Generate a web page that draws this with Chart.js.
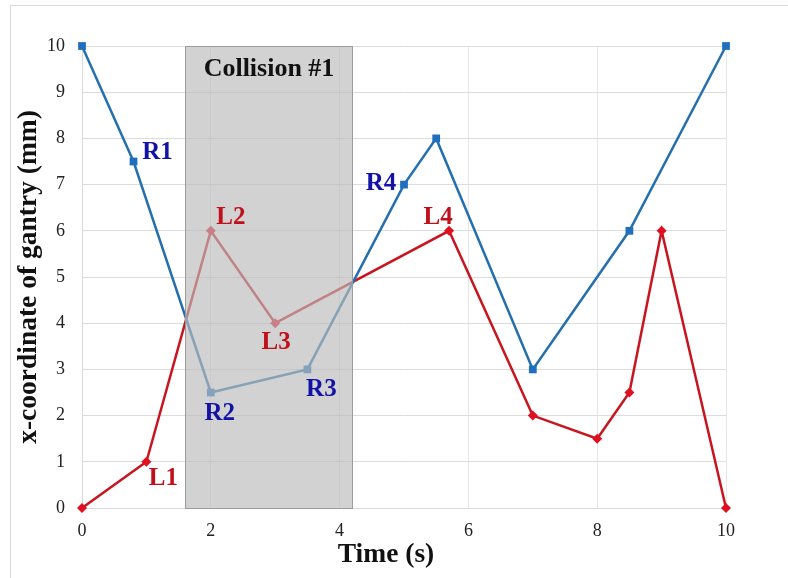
<!DOCTYPE html>
<html>
<head>
<meta charset="utf-8">
<script src="https://cdn.jsdelivr.net/npm/chart.js@4/dist/chart.umd.min.js"></script>
<style>
  html, body { margin: 0; padding: 0; background: #ffffff; }
  canvas { display: block; }
</style>
</head>
<body>
<canvas id="chart" width="788" height="578"></canvas>
<script>
// Right gantry trajectory (blue, squares)
const rightTime = [0, 0.8, 2, 3.5, 5, 5.5, 7, 8.5, 10];
const rightPos  = [10, 7.5, 2.5, 3, 7, 8, 3, 6, 10];

// Left gantry trajectory (red, diamonds)
const leftTime = [0, 1, 2, 3, 5.7, 7, 8, 8.5, 9, 10];
const leftPos  = [0, 1, 6, 4, 6, 2, 1.5, 2.5, 6, 0];

// Waypoint names and the sample each one belongs to
const rightNames = ['R1', 'R2', 'R3', 'R4'];
const rightNameIdx = [1, 2, 3, 4];
const leftNames = ['L1', 'L2', 'L3', 'L4'];
const leftNameIdx = [1, 2, 3, 4];

// Time window of the collision
const collisionWindow = [1.6, 4.2];
const collisionText = 'Collision #1';

// Axis settings
const xTicksStep = 2;
const yTicksStep = 1;
const axisMin = 0;
const axisMax = 10;

const SERIF = "'Liberation Serif', 'Times New Roman', serif";
const BLUE_LINE = '#2470ae';
const BLUE_MARK = '#1f6fbd';
const RED_LINE = '#c8151f';
const RED_MARK = '#e01020';
const BLUE_TEXT = '#1212a6';
const RED_TEXT = '#c0101c';

// label placement (pixel nudges from the waypoint)
const rightNameOffsets = [[24, -9], [9, 21], [14, 20], [-23, -1]];
const leftNameOffsets = [[17, 17], [20, -13], [1, 19], [-11, -13]];

const toPoints = (xs, ys) => xs.map((x, i) => ({ x: x, y: ys[i] }));

const decorations = {
  id: 'decorations',
  beforeDraw(chart) {
    const ctx = chart.ctx;
    ctx.save();
    ctx.fillStyle = '#ffffff';
    ctx.fillRect(0, 0, chart.width, chart.height);
    ctx.strokeStyle = '#d9d9d9';
    ctx.lineWidth = 1;
    ctx.strokeRect(10.5, 5.5, chart.width + 20, chart.height + 20);
    ctx.restore();
  },
  afterDatasetsDraw(chart) {
    const ctx = chart.ctx;
    const xs = chart.scales.x, ys = chart.scales.y;
    const area = chart.chartArea;

    // shaded collision window over the traces
    const x0 = Math.round(xs.getPixelForValue(collisionWindow[0])) + 0.5;
    const x1 = Math.round(xs.getPixelForValue(collisionWindow[1])) + 0.5;
    const y0 = Math.round(ys.getPixelForValue(axisMax)) + 0.5;
    const y1 = Math.round(ys.getPixelForValue(axisMin)) + 0.5;
    ctx.save();
    ctx.fillStyle = 'rgba(186,186,186,0.66)';
    ctx.fillRect(x0, y0, x1 - x0, y1 - y0);
    ctx.strokeStyle = '#9c9c9c';
    ctx.lineWidth = 1;
    ctx.strokeRect(x0, y0, x1 - x0, y1 - y0);

    ctx.fillStyle = '#111111';
    ctx.font = 'bold 26px ' + SERIF;
    ctx.textAlign = 'center';
    ctx.textBaseline = 'middle';
    ctx.fillText(collisionText, (x0 + x1) / 2, y0 + 23);

    // waypoint names
    ctx.font = 'bold 25px ' + SERIF;
    const drawNames = (names, idx, offs, tx, ty, color) => {
      ctx.fillStyle = color;
      names.forEach((n, i) => {
        const k = idx[i];
        const px = xs.getPixelForValue(tx[k]) + offs[i][0];
        const py = ys.getPixelForValue(ty[k]) + offs[i][1];
        ctx.fillText(n, px, py);
      });
    };
    drawNames(rightNames, rightNameIdx, rightNameOffsets, rightTime, rightPos, BLUE_TEXT);
    drawNames(leftNames, leftNameIdx, leftNameOffsets, leftTime, leftPos, RED_TEXT);

    // x-axis title
    ctx.fillStyle = '#111111';
    ctx.font = 'bold 27.5px ' + SERIF;
    ctx.fillText('Time (s)', (area.left + area.right) / 2 - 18, 555);
    ctx.restore();
  }
};

new Chart(document.getElementById('chart'), {
  type: 'line',
  data: {
    datasets: [
      {
        label: 'Right',
        data: toPoints(rightTime, rightPos),
        borderColor: BLUE_LINE,
        backgroundColor: BLUE_MARK,
        borderWidth: 2.5,
        pointStyle: 'rect',
        pointRadius: 5.5,
        pointBorderWidth: 0,
        pointBackgroundColor: BLUE_MARK,
        tension: 0,
        clip: false
      },
      {
        label: 'Left',
        data: toPoints(leftTime, leftPos),
        borderColor: RED_LINE,
        backgroundColor: RED_MARK,
        borderWidth: 2.5,
        pointStyle: 'rectRot',
        pointRadius: 5,
        pointBorderWidth: 0,
        pointBackgroundColor: RED_MARK,
        tension: 0,
        clip: false
      }
    ]
  },
  options: {
    responsive: false,
    animation: false,
    devicePixelRatio: 1,
    layout: { padding: { top: 46, right: 62, left: 0, bottom: 0 } },
    plugins: {
      legend: { display: false },
      tooltip: { enabled: false }
    },
    scales: {
      x: {
        type: 'linear',
        min: axisMin,
        max: axisMax,
        ticks: {
          stepSize: xTicksStep,
          padding: 12,
          color: '#222222',
          font: { family: SERIF, size: 18 }
        },
        grid: { color: '#e6e6e6', drawTicks: false, lineWidth: 1 },
        border: { color: '#d9d9d9' },
        title: { display: false },
        afterFit(scale) { scale.height = 70; }
      },
      y: {
        type: 'linear',
        min: axisMin,
        max: axisMax,
        ticks: {
          stepSize: yTicksStep,
          padding: 17,
          color: '#222222',
          font: { family: SERIF, size: 18 }
        },
        grid: { color: '#dcdcdc', drawTicks: false, lineWidth: 1 },
        border: { color: '#d9d9d9' },
        title: {
          display: true,
          text: 'x-coordinate of gantry (mm)',
          color: '#111111',
          font: { family: SERIF, size: 27.5, weight: 'bold' },
          padding: { top: 12, bottom: 0 }
        },
        afterFit(scale) { scale.width = 82; }
      }
    }
  },
  plugins: [decorations]
});
</script>
</body>
</html>
